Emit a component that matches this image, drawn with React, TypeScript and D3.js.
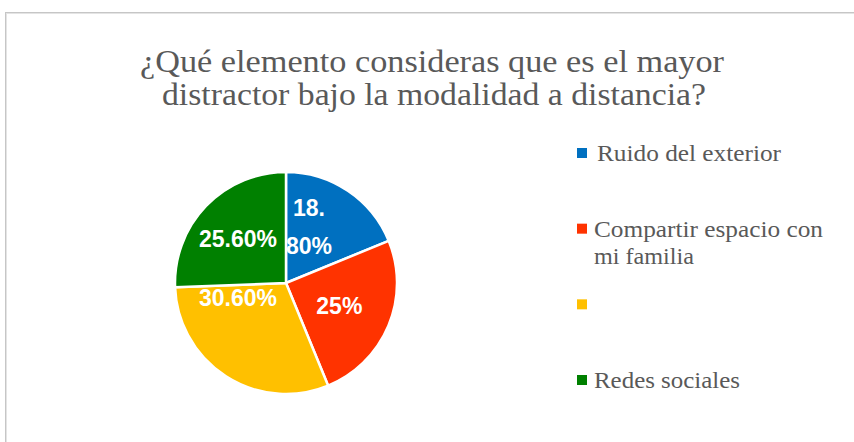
import React from "react";
import * as d3 from "d3";

const titleLines = ["¿Qué elemento consideras que es el mayor", "distractor bajo la modalidad a distancia?"];
const categories = ["Ruido del exterior", "Compartir espacio con mi familia", "", "Redes sociales"];
const legendLines = [["Ruido del exterior"], ["Compartir espacio con", "mi familia"], [""], ["Redes sociales"]];
const values = [18.8, 25, 30.6, 25.6];
const valueLabels = [["18.", "80%"], ["25%"], ["30.60%"], ["25.60%"]];
const colors = ["#0070C0", "#FF3300", "#FFC000", "#008000"];

// small nudges so labels sit where the original put them
const labelNudge = [[-11, -5], [-3, -1], [-15, -36], [-4, -2]];
// widths of the legend lines in the original (Cambria is wider than Liberation Serif)
const legendWidths = [[184], [229, 100], [0], [146]];

const W = 854;
const H = 442;
const cx = 286;
const cy = 283;
const r = 111;

export default function App() {
  const pie = d3.pie<number>().sort(null).value((d) => d);
  const arcs = pie(values);
  const arc = d3.arc<d3.PieArcDatum<number>>().innerRadius(0).outerRadius(r);
  const labelArc = d3.arc<d3.PieArcDatum<number>>().innerRadius(r * 0.55).outerRadius(r * 0.55);

  const legendY = d3.scalePoint<number>().domain(d3.range(categories.length)).range([155, 382]);

  return (
    <svg width={W} height={H} style={{ position: "absolute", left: 0, top: 0, background: "#fff" }}>
      <rect x={5.5} y={12.5} width={W} height={H} fill="#fff" stroke="#c6c6c6" strokeWidth={1} />
      <rect x={6.5} y={13.5} width={W} height={H} fill="none" stroke="#e4e4e4" strokeWidth={1} />
      <g fill="#595959" fontFamily="'Liberation Serif', serif" fontSize={31} textAnchor="middle">
        <text x={432} y={72} textLength={584} lengthAdjust="spacingAndGlyphs">{titleLines[0]}</text>
        <text x={434} y={105} textLength={544} lengthAdjust="spacingAndGlyphs">{titleLines[1]}</text>
      </g>
      <g transform={`translate(${cx},${cy})`}>
        {arcs.map((a, i) => (
          <path key={i} d={arc(a) || ""} fill={colors[i]} stroke="#fff" strokeWidth={2.5} strokeLinejoin="round" />
        ))}
        {arcs.map((a, i) => {
          const [lx, ly] = labelArc.centroid(a);
          const lines = valueLabels[i];
          const x = lx + labelNudge[i][0];
          const y0 = ly + labelNudge[i][1] - ((lines.length - 1) * 38) / 2;
          return (
            <text key={i} fill="#fff" fontFamily="'Liberation Sans', Arial, sans-serif" fontWeight="bold" fontSize={23} textAnchor="middle">
              {lines.map((t, j) => (
                <tspan key={j} x={x} y={y0 + j * 38 + 8}>{t}</tspan>
              ))}
            </text>
          );
        })}
      </g>
      <g fontFamily="'Liberation Serif', serif" fontSize={24} fill="#595959">
        {legendLines.map((lines, i) => {
          const y = legendY(i) as number;
          return (
            <g key={i}>
              <rect x={577} y={y - 7} width={10} height={10} fill={colors[i]} />
              {lines.map((t, j) =>
                t ? (
                  <text key={j} x={i === 0 ? 597 : 594} y={y + 6 + j * 27} textLength={legendWidths[i][j]} lengthAdjust="spacingAndGlyphs">
                    {t}
                  </text>
                ) : null
              )}
            </g>
          );
        })}
      </g>
    </svg>
  );
}
